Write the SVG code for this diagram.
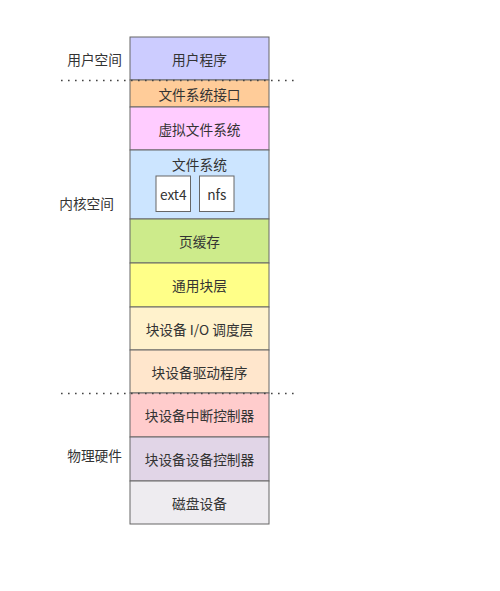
<svg xmlns="http://www.w3.org/2000/svg" width="500" height="591" viewBox="0 0 500 591">
<style>
.b{stroke:#666;stroke-width:1}
.t{font-family:"Noto Sans CJK SC","Liberation Sans",sans-serif;font-size:13.7px;fill:#333;text-anchor:middle;dominant-baseline:central}
.l{font-family:"Noto Sans CJK SC","Liberation Sans",sans-serif;font-size:13.7px;fill:#333;text-anchor:end;dominant-baseline:central}
.d{stroke:#444;stroke-width:1.6;stroke-dasharray:1.6 5.4;fill:none}
</style>
<rect width="500" height="591" fill="#fff"/>
<g id="n1"><rect class="b" x="130" y="37" width="139" height="43" fill="#ccccff"/><text class="t" x="199.5" y="59">用户程序</text></g>
<g id="n2"><rect class="b" x="130" y="80" width="139" height="27" fill="#ffcc99"/><text class="t" x="199.5" y="93.5">文件系统接口</text></g>
<g id="n3"><rect class="b" x="130" y="107" width="139" height="43" fill="#ffccff"/><text class="t" x="199.5" y="128.5">虚拟文件系统</text></g>
<g id="n4"><rect class="b" x="130" y="150" width="139" height="69" fill="#cce5ff"/><text class="t" x="199.5" y="164">文件系统</text></g>
<g id="n4a"><rect class="b" x="156" y="176" width="34.5" height="35.5" fill="#fff"/><text class="t" x="173.25" y="193.75">ext4</text></g>
<g id="n4b"><rect class="b" x="199.5" y="176" width="34.5" height="35.5" fill="#fff"/><text class="t" x="216.75" y="193.75">nfs</text></g>
<g id="n5"><rect class="b" x="130" y="219" width="139" height="44" fill="#cdeb8b"/><text class="t" x="199.5" y="241">页缓存</text></g>
<g id="n6"><rect class="b" x="130" y="263" width="139" height="44" fill="#ffff88"/><text class="t" x="199.5" y="285">通用块层</text></g>
<g id="n7"><rect class="b" x="130" y="307" width="139" height="43" fill="#fff2cc"/><text class="t" x="199.5" y="328.5">块设备 I/O 调度层</text></g>
<g id="n8"><rect class="b" x="130" y="350" width="139" height="43" fill="#ffe6cc"/><text class="t" x="199.5" y="371.5">块设备驱动程序</text></g>
<g id="n9"><rect class="b" x="130" y="393" width="139" height="44" fill="#ffcccc"/><text class="t" x="199.5" y="415">块设备中断控制器</text></g>
<g id="n10"><rect class="b" x="130" y="437" width="139" height="44" fill="#e1d5e7"/><text class="t" x="199.5" y="459">块设备设备控制器</text></g>
<g id="n11"><rect class="b" x="130" y="481" width="139" height="43" fill="#eeecf0"/><text class="t" x="199.5" y="502.5">磁盘设备</text></g>
<g id="labels">
<text class="l" x="122" y="59">用户空间</text>
<text class="l" x="114" y="203">内核空间</text>
<text class="l" x="122" y="455">物理硬件</text>
</g>
<g id="connectors">
<line class="d" x1="61" y1="80.5" x2="294" y2="80.5"/>
<line class="d" x1="61" y1="393.5" x2="294" y2="393.5"/>
</g>
</svg>
